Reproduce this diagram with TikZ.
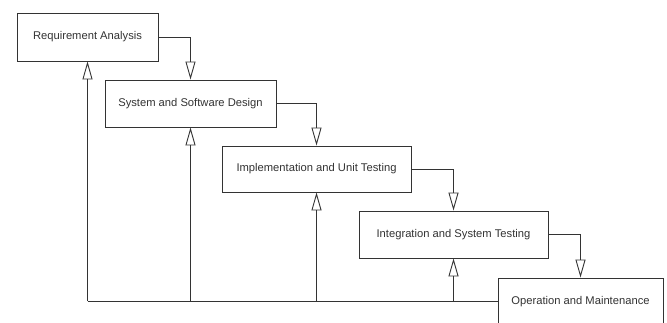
\documentclass[tikz,border=0pt]{standalone}
\usepackage{fontspec}
\setmainfont{Liberation Sans}
\usetikzlibrary{arrows.meta}
\begin{document}
\begin{tikzpicture}[x=1pt,y=-1pt,
  line width=0.9pt, draw=black!80,
  box/.style={draw=black!80, line width=0.9pt, fill=white, inner sep=0pt,
    font=\fontsize{11.2}{13}\selectfont, text=black!80},
  conn/.style={draw=black!80, line width=0.9pt,
    -{Triangle[open, length=18pt, width=10pt, line width=0.9pt]}},
  back/.style={draw=black!80, line width=0.9pt,
    -{Triangle[open, length=18pt, width=10pt, line width=0.9pt]}}]
\clip (0,0) rectangle (667,323);
\fill[white] (0,0) rectangle (667,323);
\node[box, minimum width=141pt, minimum height=48pt] (b1) at (87.5,37) {Requirement Analysis};
\node[box, minimum width=171pt, minimum height=47pt] (b2) at (190.5,103.5) {System and Software Design};
\node[box, minimum width=189pt, minimum height=46pt] (b3) at (316.5,169) {Implementation and Unit Testing};
\node[box, minimum width=189pt, minimum height=47pt] (b4) at (453.5,234.5) {Integration and System Testing};
\node[box, minimum width=165pt, minimum height=48pt] (b5) at (580.5,302) {Operation and Maintenance};
% forward arrows
\draw[conn] (b1.east) -| (b2.north);
\draw[conn] (b2.east) -| (b3.north);
\draw[conn] (b3.east) -| (b4.north);
\draw[conn] (b4.east) -| (b5.north);
% feedback lines
\coordinate (f1) at (b1.south |- 0,301);
\coordinate (f2) at (b2.south |- 0,301);
\coordinate (f3) at (b3.south |- 0,301);
\coordinate (f4) at (b4.south |- 0,301);
\coordinate (f5) at (b5.west |- 0,301);
\draw[draw=black!80, line width=0.9pt] (f1) -- (f5);
\draw[back] (f1) -- (b1.south);
\draw[back] (f2) -- (b2.south);
\draw[back] (f3) -- (b3.south);
\draw[back] (f4) -- (b4.south);
\end{tikzpicture}
\end{document}
